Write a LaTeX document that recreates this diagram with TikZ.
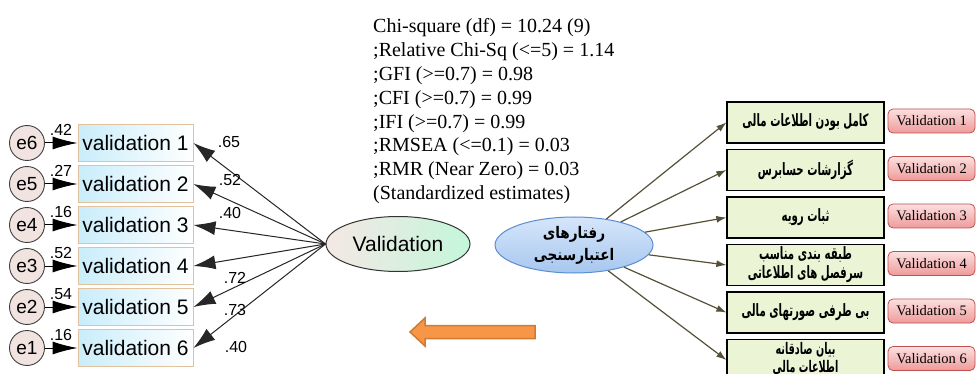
\documentclass[tikz,border=0pt]{standalone}
\usepackage{fontspec}
\setmainfont{Liberation Serif}
\newfontfamily\arialfont{Liberation Sans}
\newfontfamily\arabicfont[Script=Arabic,FakeStretch=0.6]{DejaVu Sans}
\newfontfamily\arabicell[Script=Arabic,FakeStretch=0.85]{DejaVu Sans}
\TeXXeTstate=1
\usetikzlibrary{arrows.meta,shapes.geometric}
\definecolor{boxedge}{HTML}{E2C29E}
\definecolor{boxcyan}{HTML}{C9EDFA}
\definecolor{errfill}{HTML}{F1E3DF}
\definecolor{valleft}{HTML}{F4E8E4}
\definecolor{valright}{HTML}{C4F6DB}
\definecolor{bluetop}{HTML}{D6E6FA}
\definecolor{bluebot}{HTML}{A7C7EF}
\definecolor{blueedge}{HTML}{5A8DD3}
\definecolor{greenfill}{HTML}{EBF5D6}
\definecolor{redtop}{HTML}{FCE0E0}
\definecolor{redbot}{HTML}{EE9A9A}
\definecolor{rededge}{HTML}{C0504D}
\definecolor{olive}{HTML}{575038}
\definecolor{orangefill}{HTML}{F79646}
\definecolor{orangeedge}{HTML}{D07A33}
\tikzset{
  obsbox/.style={draw=boxedge, line width=0.9pt, left color=boxcyan, right color=white,
    minimum width=115pt, minimum height=37pt, inner sep=0pt,
    font=\arialfont\fontsize{21}{24}\selectfont},
  errc/.style={circle, draw=black!75, line width=0.9pt, fill=errfill,
    minimum size=35pt, inner sep=0pt, font=\arialfont\fontsize{19}{22}\selectfont},
  coef/.style={font=\arialfont\fontsize{16}{18}\selectfont, inner sep=0pt},
  loadarrow/.style={draw=black!85, line width=1pt, -{Latex[length=22pt,width=14pt]}},
  errarrow/.style={draw=black, line width=1pt, -{Latex[length=25pt,width=13pt]}},
  gbox/.style={draw=black, line width=1.3pt, fill=greenfill, minimum width=157pt,
    minimum height=41pt, inner sep=0pt, align=center,
    font=\arabicfont\bfseries\fontsize{17}{19}\selectfont},
  rbox/.style={draw=rededge, line width=0.8pt, rounded corners=5pt, top color=redtop,
    bottom color=redbot, minimum width=87pt, minimum height=24pt, inner sep=0pt,
    font=\fontsize{14.5}{17}\selectfont},
  olivearrow/.style={draw=olive, line width=1.2pt, -{Latex[length=10pt,width=7pt]}},
  statline/.style={anchor=base west, inner sep=0pt, font=\fontsize{20}{24}\selectfont}
}
\begin{document}
\begin{tikzpicture}[x=1pt,y=-1pt]
\useasboundingbox (0,0) rectangle (977,374);
\clip (0,0) rectangle (977,374);
\fill[white] (0,0) rectangle (977,374);

% stats text
\node[statline] (s1) at (373,33) {Chi-square (df) = 10.24 (9)};
\node[statline] (s2) at (373,56.8) {;Relative Chi-Sq (<=5) = 1.14};
\node[statline] (s3) at (373,80.6) {;GFI (>=0.7) = 0.98};
\node[statline] (s4) at (373,104.4) {;CFI (>=0.7) = 0.99};
\node[statline] (s5) at (373,128.2) {;IFI (>=0.7) = 0.99};
\node[statline] (s6) at (373,152) {;RMSEA (<=0.1) = 0.03};
\node[statline] (s7) at (373,175.8) {;RMR (Near Zero) = 0.03};
\node[statline] (s8) at (373,199.6) {(Standardized estimates)};

% latent
\node[ellipse, draw=black!80, line width=1pt, left color=valleft, right color=valright,
  minimum width=144pt, minimum height=55pt, inner sep=0pt,
  font=\arialfont\fontsize{21}{24}\selectfont] (V) at (398,244) {Validation};

% observed boxes and errors
\foreach \i/\e/\r [count=\k from 0] in {1/6/.42, 2/5/.27, 3/4/.16, 4/3/.52, 5/2/.54, 6/1/.16} {
  \pgfmathsetmacro{\yy}{143+41*\k}
  \node[obsbox] (b\i) at (135.5,\yy) {validation \i};
  \node[errc] (e\e) at (27,\yy) {e\e};
  \draw[errarrow] (e\e) -- (b\i);
  \node[coef] (r\i) at (61,\yy-13) {\r};
}

% loadings
\foreach \i in {1,...,6} {
  \draw[loadarrow] (V.west) -- (b\i.east);
}
\node[coef] (l1) at (229,142) {.65};
\node[coef] (l2) at (230,180) {.52};
\node[coef] (l3) at (230,213) {.40};
\node[coef] (l4) at (235,278) {.72};
\node[coef] (l5) at (235,310) {.73};
\node[coef] (l6) at (236,347) {.40};

% orange arrow
\draw[fill=orangefill, draw=orangeedge, line width=1.5pt, line join=miter]
  (410,332) -- (425,318) -- (425,325.5) -- (535,325.5) -- (535,338.5) -- (425,338.5) -- (425,346) -- cycle;

% right side
\node[ellipse, draw=blueedge, line width=1pt, top color=bluetop, bottom color=bluebot,
  minimum width=158pt, minimum height=56pt, inner sep=0pt, align=center,
  font=\arabicell\bfseries\fontsize{16}{22}\selectfont] (R) at (574,245)
  {\beginR رفتارهای\endR\\\beginR اعتبارسنجی\endR};

\node[gbox] (g1) at (805.5,122.5) {\beginR کامل بودن اطلاعات مالی\endR};
\node[gbox] (g2) at (805.5,170) {\beginR گزارشات حسابرس\endR};
\node[gbox] (g3) at (805.5,217.5) {\beginR ثبات رویه\endR};
\node[gbox] (g4) at (805.5,265) {\beginR طبقه بندی مناسب\endR\\\beginR سرفصل های اطلاعاتی\endR};
\node[gbox] (g5) at (805.5,312.5) {\beginR بی طرفی صورتهای مالی\endR};
\node[gbox, font=\arabicfont\bfseries\fontsize{16}{16}\selectfont] (g6) at (805.5,360)
  {\raisebox{6pt}{\shortstack{\beginR بیان صادقانه\endR\\\beginR اطلاعات مالی\endR}}};

\foreach \i in {1,...,6} {
  \draw[olivearrow] (R) -- (g\i.west);
  \pgfmathsetmacro{\yy}{121+47.5*(\i-1)}
  \node[rbox] (v\i) at (931.5,\yy) {Validation \i};
}
\end{tikzpicture}
\end{document}
